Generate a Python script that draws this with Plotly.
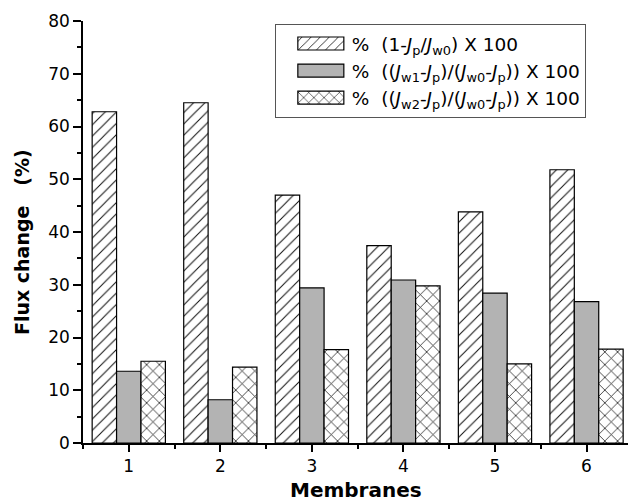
import plotly.graph_objects as go

membranes = [1, 2, 3, 4, 5, 6]
tick_labels = ["1", "2", "3", "4", "5", "6"]
flux_decline = [62.8, 64.5, 47.0, 37.4, 43.8, 51.8]
recovery_w1 = [13.6, 8.2, 29.4, 30.9, 28.4, 26.8]
recovery_w2 = [15.5, 14.4, 17.7, 29.8, 15.0, 17.8]

name1 = "%\u00a0\u00a0(1-<i>J</i><sub>p</sub>/<i>J</i><sub>w0</sub>) X 100"
name2 = "%\u00a0\u00a0((<i>J</i><sub>w1</sub>-<i>J</i><sub>p</sub>)/(<i>J</i><sub>w0</sub>-<i>J</i><sub>p</sub>)) X 100"
name3 = "%\u00a0\u00a0((<i>J</i><sub>w2</sub>-<i>J</i><sub>p</sub>)/(<i>J</i><sub>w0</sub>-<i>J</i><sub>p</sub>)) X 100"

FONT = "DejaVu Sans"

fig = go.Figure()
fig.add_trace(go.Bar(
    x=membranes, y=flux_decline, name=name1,
    marker=dict(color="white", line=dict(color="black", width=1.2),
                pattern=dict(shape="/", fgcolor="#111111", bgcolor="white", size=8,
                             solidity=0.13, fgopacity=1)),
))
fig.add_trace(go.Bar(
    x=membranes, y=recovery_w1, name=name2,
    marker=dict(color="#b3b3b3", line=dict(color="black", width=1.2)),
))
fig.add_trace(go.Bar(
    x=membranes, y=recovery_w2, name=name3,
    marker=dict(color="white", line=dict(color="black", width=1.2),
                pattern=dict(shape="x", fgcolor="#111111", bgcolor="white", size=9,
                             solidity=0.16, fgopacity=1)),
))

fig.update_layout(
    width=628, height=503,
    margin=dict(l=83, r=0, t=21, b=60),
    paper_bgcolor="white", plot_bgcolor="white",
    barmode="group", bargap=0.2, bargroupgap=0,
    font=dict(family=FONT, color="black", size=16),
    showlegend=True,
    legend=dict(
        x=0.352, y=0.993, xanchor="left", yanchor="top",
        bordercolor="#555555", borderwidth=1, bgcolor="white",
        font=dict(family=FONT, size=18.5, color="black"),
        tracegroupgap=0, itemwidth=66,
    ),
    xaxis=dict(
        range=[0.5, 6.453], tickvals=membranes, ticktext=tick_labels,
        showline=True, linecolor="black", linewidth=1.5,
        ticks="outside", ticklen=7, tickwidth=1.5, tickcolor="black",
        minor=dict(dtick=1, tick0=0.5, ticks="outside", ticklen=4, tickwidth=1.5, tickcolor="black"),
        showgrid=False, zeroline=False, automargin=False,
        tickfont=dict(family=FONT, size=17),
    ),
    yaxis=dict(
        range=[0, 80], tickvals=[0, 10, 20, 30, 40, 50, 60, 70, 80],
        showline=True, linecolor="black", linewidth=1.5,
        ticks="outside", ticklen=8, tickwidth=1.5, tickcolor="black",
        minor=dict(dtick=5, tick0=0, ticks="outside", ticklen=4, tickwidth=1.5, tickcolor="black"),
        showgrid=False, zeroline=False, automargin=False,
        tickfont=dict(family=FONT, size=17),
    ),
    annotations=[
        dict(text="<b>Flux change\u00a0\u00a0\u00a0(%)</b>", xref="paper", yref="paper",
             x=-0.112, y=0.476, xanchor="center", yanchor="middle", textangle=-90,
             showarrow=False, font=dict(family=FONT, size=19, color="black")),
        dict(text="<b>Membranes</b>", xref="paper", yref="paper",
             x=0.5, y=-0.111, xanchor="center", yanchor="middle",
             showarrow=False, font=dict(family=FONT, size=20, color="black")),
    ],
)

post = """
document.body.style.margin = '0';
document.body.style.padding = '0';
document.body.style.overflow = 'hidden';
var gd = document.getElementById('{plot_id}');
gd.querySelectorAll('.legend .traces .legendpoints path').forEach(function(p){
    p.setAttribute('d', 'M30,6.5H-16V-6.5H30Z');
});
"""

fig.write_html("out.html", post_script=post, config={"displayModeBar": False})
